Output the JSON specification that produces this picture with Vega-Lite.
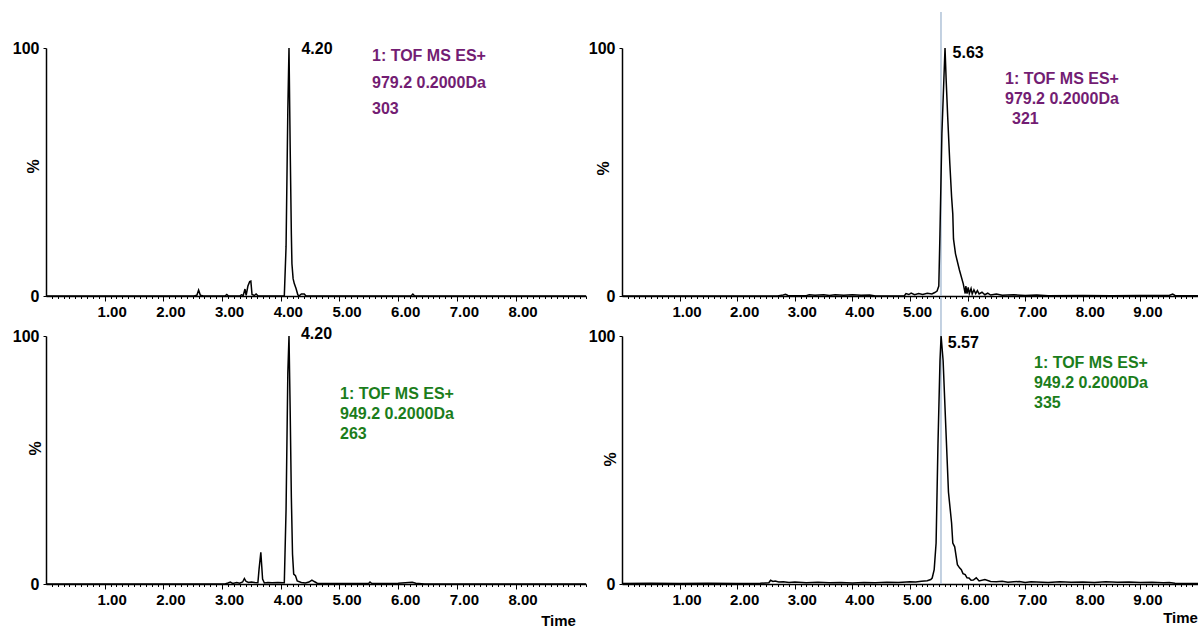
{
  "$schema": "https://vega.github.io/schema/vega-lite/v6.json",
  "background": "white",
  "padding": {"left": 12, "top": 11, "right": 0, "bottom": 0},
  "autosize": {"type": "pad"},
  "datasets": {
    "tl": [{"t":0,"pct":0},{"t":2.52,"pct":0},{"t":2.57,"pct":0.3},{"t":2.6,"pct":2.4},{"t":2.63,"pct":0.3},{"t":2.68,"pct":0},{"t":3.05,"pct":0},{"t":3.08,"pct":0.6},{"t":3.11,"pct":0},{"t":3.3,"pct":0},{"t":3.33,"pct":0.5},{"t":3.36,"pct":0.2},{"t":3.39,"pct":2.8},{"t":3.41,"pct":0.3},{"t":3.44,"pct":4},{"t":3.47,"pct":5.8},{"t":3.49,"pct":6},{"t":3.51,"pct":0.6},{"t":3.55,"pct":0.2},{"t":3.58,"pct":0.8},{"t":3.61,"pct":0.1},{"t":3.7,"pct":0},{"t":4.06,"pct":0},{"t":4.09,"pct":20},{"t":4.12,"pct":75},{"t":4.14,"pct":100},{"t":4.16,"pct":60},{"t":4.18,"pct":25},{"t":4.19,"pct":13},{"t":4.21,"pct":7},{"t":4.23,"pct":5},{"t":4.26,"pct":3},{"t":4.29,"pct":0.5},{"t":4.31,"pct":0},{"t":4.35,"pct":0.8},{"t":4.4,"pct":0.8},{"t":4.43,"pct":0},{"t":6.22,"pct":0},{"t":6.25,"pct":0.8},{"t":6.28,"pct":0},{"t":9.2,"pct":0}],
    "bl": [{"t":0,"pct":0},{"t":3.05,"pct":0},{"t":3.1,"pct":0.4},{"t":3.14,"pct":0.8},{"t":3.18,"pct":0.2},{"t":3.25,"pct":0.6},{"t":3.3,"pct":0.3},{"t":3.35,"pct":0.8},{"t":3.38,"pct":2.2},{"t":3.41,"pct":1},{"t":3.45,"pct":0.6},{"t":3.5,"pct":0.8},{"t":3.55,"pct":0.6},{"t":3.61,"pct":0.5},{"t":3.63,"pct":6},{"t":3.66,"pct":12.8},{"t":3.69,"pct":2},{"t":3.72,"pct":0.4},{"t":3.78,"pct":0.6},{"t":3.85,"pct":0.5},{"t":3.95,"pct":0.6},{"t":4.04,"pct":0.5},{"t":4.06,"pct":0.5},{"t":4.09,"pct":30},{"t":4.12,"pct":85},{"t":4.14,"pct":100},{"t":4.16,"pct":70},{"t":4.18,"pct":35},{"t":4.2,"pct":12},{"t":4.22,"pct":4},{"t":4.25,"pct":3.4},{"t":4.28,"pct":1.2},{"t":4.35,"pct":0.6},{"t":4.42,"pct":0.4},{"t":4.48,"pct":0.8},{"t":4.53,"pct":1.6},{"t":4.57,"pct":1},{"t":4.62,"pct":0.3},{"t":4.8,"pct":0.2},{"t":5.0,"pct":0.2},{"t":5.5,"pct":0.3},{"t":5.52,"pct":0.8},{"t":5.55,"pct":0.2},{"t":6.0,"pct":0.3},{"t":6.24,"pct":0.7},{"t":6.3,"pct":0.3},{"t":6.45,"pct":0},{"t":9.2,"pct":0}],
    "tr": [{"t":0,"pct":0},{"t":1.0,"pct":0},{"t":2.7,"pct":0},{"t":2.8,"pct":0.4},{"t":2.84,"pct":0.7},{"t":2.88,"pct":0.2},{"t":3.2,"pct":0.1},{"t":3.25,"pct":0.5},{"t":3.35,"pct":0.3},{"t":3.5,"pct":0.5},{"t":3.6,"pct":0.2},{"t":3.7,"pct":0.5},{"t":3.85,"pct":0.3},{"t":4.0,"pct":0.5},{"t":4.15,"pct":0.3},{"t":4.3,"pct":0.4},{"t":4.4,"pct":0},{"t":4.9,"pct":0},{"t":4.93,"pct":1},{"t":4.98,"pct":0.6},{"t":5.02,"pct":1.2},{"t":5.08,"pct":0.5},{"t":5.15,"pct":1},{"t":5.22,"pct":0.6},{"t":5.3,"pct":1.1},{"t":5.38,"pct":0.8},{"t":5.43,"pct":1.4},{"t":5.47,"pct":2},{"t":5.5,"pct":4},{"t":5.52,"pct":25},{"t":5.554,"pct":65.6},{"t":5.589,"pct":88},{"t":5.608,"pct":100},{"t":5.628,"pct":87},{"t":5.655,"pct":72},{"t":5.69,"pct":54},{"t":5.722,"pct":40},{"t":5.743,"pct":33},{"t":5.755,"pct":23},{"t":5.79,"pct":17},{"t":5.858,"pct":10.5},{"t":5.924,"pct":5},{"t":5.958,"pct":1},{"t":5.97,"pct":4},{"t":5.99,"pct":1},{"t":6.01,"pct":3.5},{"t":6.03,"pct":1},{"t":6.06,"pct":3},{"t":6.08,"pct":0.8},{"t":6.11,"pct":2.5},{"t":6.14,"pct":1},{"t":6.17,"pct":2.2},{"t":6.2,"pct":0.8},{"t":6.25,"pct":1.5},{"t":6.3,"pct":0.5},{"t":6.35,"pct":1.2},{"t":6.4,"pct":0.4},{"t":6.5,"pct":0.8},{"t":6.6,"pct":0.3},{"t":6.8,"pct":0.5},{"t":7.0,"pct":0.2},{"t":7.2,"pct":0.4},{"t":7.4,"pct":0.1},{"t":8.0,"pct":0.2},{"t":8.5,"pct":0.1},{"t":9.0,"pct":0.2},{"t":9.5,"pct":0.2},{"t":9.56,"pct":0.8},{"t":9.6,"pct":0.2},{"t":10,"pct":0.1}],
    "br": [{"t":0,"pct":0.2},{"t":0.5,"pct":0.3},{"t":1.0,"pct":0.2},{"t":1.5,"pct":0.3},{"t":2.0,"pct":0.2},{"t":2.4,"pct":0.3},{"t":2.55,"pct":0.5},{"t":2.58,"pct":1.5},{"t":2.62,"pct":1},{"t":2.66,"pct":1.2},{"t":2.72,"pct":0.8},{"t":2.8,"pct":0.9},{"t":2.9,"pct":0.6},{"t":3.0,"pct":0.8},{"t":3.2,"pct":0.5},{"t":3.4,"pct":0.7},{"t":3.6,"pct":0.5},{"t":3.8,"pct":0.6},{"t":4.0,"pct":0.4},{"t":4.2,"pct":0.6},{"t":4.4,"pct":0.5},{"t":4.6,"pct":0.7},{"t":4.8,"pct":0.6},{"t":5.0,"pct":0.9},{"t":5.1,"pct":0.8},{"t":5.2,"pct":1.1},{"t":5.3,"pct":1.3},{"t":5.36,"pct":1.8},{"t":5.385,"pct":2.4},{"t":5.42,"pct":5.8},{"t":5.453,"pct":16.5},{"t":5.486,"pct":56.8},{"t":5.521,"pct":90.3},{"t":5.54,"pct":100},{"t":5.575,"pct":90},{"t":5.622,"pct":63},{"t":5.668,"pct":37},{"t":5.722,"pct":24.6},{"t":5.743,"pct":16.5},{"t":5.776,"pct":15},{"t":5.823,"pct":7.8},{"t":5.86,"pct":6.5},{"t":5.891,"pct":5.8},{"t":5.92,"pct":4.2},{"t":5.958,"pct":3.8},{"t":5.99,"pct":2.5},{"t":6.024,"pct":2.4},{"t":6.06,"pct":1.5},{"t":6.1,"pct":1.6},{"t":6.15,"pct":2.5},{"t":6.2,"pct":1.2},{"t":6.3,"pct":1.8},{"t":6.4,"pct":1},{"t":6.5,"pct":0.9},{"t":6.6,"pct":1.1},{"t":6.7,"pct":0.7},{"t":6.8,"pct":0.9},{"t":6.9,"pct":1},{"t":7.0,"pct":0.6},{"t":7.1,"pct":0.9},{"t":7.2,"pct":0.8},{"t":7.4,"pct":0.6},{"t":7.6,"pct":0.9},{"t":7.8,"pct":0.7},{"t":8.0,"pct":0.8},{"t":8.2,"pct":0.6},{"t":8.4,"pct":0.9},{"t":8.6,"pct":0.7},{"t":8.8,"pct":0.8},{"t":9.0,"pct":0.6},{"t":9.2,"pct":0.7},{"t":9.4,"pct":0.5},{"t":9.5,"pct":0.6},{"t":9.6,"pct":0.3},{"t":10,"pct":0.2}]
  },
  "columns": 2,
  "spacing": {"row": 40, "column": 36},
  "bounds": "flush",
  "align": "each",
  "resolve": {"scale": {"x": "independent", "y": "independent"}, "axis": {"x": "independent", "y": "independent"}},
  "concat": [
    {
      "width": 540, "height": 248,
      "resolve": {"axis": {"x": "independent"}},
      "layer": [
        {"data": {"name": "tl"}, "mark": {"type": "line", "color": "black", "strokeWidth": 1.5},
         "encoding": {
           "x": {"field": "t", "type": "quantitative", "scale": {"domain": [0, 9.2], "nice": false, "zero": false},
                 "axis": {"title": null, "orient": "bottom", "offset": 0, "values": [1,2,3,4,5,6,7,8], "format": ".2f", "labelOffset": 7, "tickSize": 5, "labelPadding": 3}},
           "y": {"field": "pct", "type": "quantitative", "scale": {"domain": [0, 100], "nice": false},
                 "axis": {"values": [0, 100], "title": "%", "titleX": -13, "titleY": 118}}
         }},
        {"data": {"name": "tl"}, "mark": {"type": "point", "opacity": 0},
         "encoding": {
           "x": {"field": "t", "type": "quantitative", "scale": {"domain": [0, 9.2], "nice": false, "zero": false},
                 "axis": {"title": null, "orient": "bottom", "offset": 0, "labels": false, "domain": false, "tickSize": 2.5,
                          "values": [0.1,0.2,0.3,0.4,0.5,0.6,0.7,0.8,0.9,1.1,1.2,1.3,1.4,1.5,1.6,1.7,1.8,1.9,2.1,2.2,2.3,2.4,2.5,2.6,2.7,2.8,2.9,3.1,3.2,3.3,3.4,3.5,3.6,3.7,3.8,3.9,4.1,4.2,4.3,4.4,4.5,4.6,4.7,4.8,4.9,5.1,5.2,5.3,5.4,5.5,5.6,5.7,5.8,5.9,6.1,6.2,6.3,6.4,6.5,6.6,6.7,6.8,6.9,7.1,7.2,7.3,7.4,7.5,7.6,7.7,7.8,7.9,8.1,8.2,8.3,8.4,8.5,8.6,8.7,8.8,8.9,9,9.1,9.2]}}
         }},
        {"data": {"values": [{}]}, "mark": {"type": "text", "align": "left", "baseline": "top", "fontSize": 16, "fontWeight": "bold", "font": "Liberation Sans", "color": "#731d73", "lineHeight": 26.5, "text": ["1: TOF MS ES+", "979.2 0.2000Da", "303"]},
         "encoding": {"x": {"datum": 5.554, "axis": null}, "y": {"datum": 99.9}}},
        {"data": {"values": [{}]}, "mark": {"type": "text", "align": "left", "baseline": "middle", "fontSize": 16, "fontWeight": "bold", "font": "Liberation Sans", "color": "black", "text": "4.20"},
         "encoding": {"x": {"datum": 4.351, "axis": null}, "y": {"datum": 99.4}}}
      ]
    },
    {
      "width": 576, "height": 248,
      "resolve": {"axis": {"x": "independent"}},
      "layer": [
        {"data": {"values": [{}]}, "mark": {"type": "rule", "color": "#a3b8d1", "strokeWidth": 1.3},
         "encoding": {"x": {"datum": 5.538, "axis": null}, "y": {"datum": 0}, "y2": {"datum": 114.5}}},
        {"data": {"name": "tr"}, "mark": {"type": "line", "color": "black", "strokeWidth": 1.5},
         "encoding": {
           "x": {"field": "t", "type": "quantitative", "scale": {"domain": [0, 10], "nice": false, "zero": false},
                 "axis": {"title": null, "orient": "bottom", "offset": 0, "values": [1,2,3,4,5,6,7,8,9], "format": ".2f", "labelOffset": 7, "tickSize": 5, "labelPadding": 3}},
           "y": {"field": "pct", "type": "quantitative", "scale": {"domain": [0, 100], "nice": false},
                 "axis": {"values": [0, 100], "title": "%", "titleX": -19, "titleY": 120}}
         }},
        {"data": {"name": "tr"}, "mark": {"type": "point", "opacity": 0},
         "encoding": {
           "x": {"field": "t", "type": "quantitative", "scale": {"domain": [0, 10], "nice": false, "zero": false},
                 "axis": {"title": null, "orient": "bottom", "offset": 0, "labels": false, "domain": false, "tickSize": 2.5,
                          "values": [0.1,0.2,0.3,0.4,0.5,0.6,0.7,0.8,0.9,1.1,1.2,1.3,1.4,1.5,1.6,1.7,1.8,1.9,2.1,2.2,2.3,2.4,2.5,2.6,2.7,2.8,2.9,3.1,3.2,3.3,3.4,3.5,3.6,3.7,3.8,3.9,4.1,4.2,4.3,4.4,4.5,4.6,4.7,4.8,4.9,5.1,5.2,5.3,5.4,5.5,5.6,5.7,5.8,5.9,6.1,6.2,6.3,6.4,6.5,6.6,6.7,6.8,6.9,7.1,7.2,7.3,7.4,7.5,7.6,7.7,7.8,7.9,8.1,8.2,8.3,8.4,8.5,8.6,8.7,8.8,8.9,9.1,9.2,9.3,9.4,9.5,9.6,9.7,9.8,9.9,10]}}
         }},
        {"data": {"values": [{}]}, "mark": {"type": "text", "align": "left", "baseline": "top", "fontSize": 16, "fontWeight": "bold", "font": "Liberation Sans", "color": "#731d73", "lineHeight": 20, "text": ["1: TOF MS ES+", "979.2 0.2000Da"]},
         "encoding": {"x": {"datum": 6.649, "axis": null}, "y": {"datum": 90.7}}},
        {"data": {"values": [{}]}, "mark": {"type": "text", "align": "left", "baseline": "top", "fontSize": 16, "fontWeight": "bold", "font": "Liberation Sans", "color": "#731d73", "text": "321"},
         "encoding": {"x": {"datum": 6.771, "axis": null}, "y": {"datum": 74.6}}},
        {"data": {"values": [{}]}, "mark": {"type": "text", "align": "left", "baseline": "middle", "fontSize": 16, "fontWeight": "bold", "font": "Liberation Sans", "color": "black", "text": "5.63"},
         "encoding": {"x": {"datum": 5.74, "axis": null}, "y": {"datum": 98.1}}}
      ]
    },
    {
      "width": 540, "height": 248,
      "resolve": {"axis": {"x": "independent"}},
      "layer": [
        {"data": {"name": "bl"}, "mark": {"type": "line", "color": "black", "strokeWidth": 1.5},
         "encoding": {
           "x": {"field": "t", "type": "quantitative", "scale": {"domain": [0, 9.2], "nice": false, "zero": false},
                 "axis": {"title": "Time", "titleX": 512, "titleY": 36, "orient": "bottom", "offset": 0, "values": [1,2,3,4,5,6,7,8], "format": ".2f", "labelOffset": 7, "tickSize": 5, "labelPadding": 3}},
           "y": {"field": "pct", "type": "quantitative", "scale": {"domain": [0, 100], "nice": false},
                 "axis": {"values": [0, 100], "title": "%", "titleX": -11, "titleY": 112}}
         }},
        {"data": {"name": "bl"}, "mark": {"type": "point", "opacity": 0},
         "encoding": {
           "x": {"field": "t", "type": "quantitative", "scale": {"domain": [0, 9.2], "nice": false, "zero": false},
                 "axis": {"title": null, "orient": "bottom", "offset": 0, "labels": false, "domain": false, "tickSize": 2.5,
                          "values": [0.1,0.2,0.3,0.4,0.5,0.6,0.7,0.8,0.9,1.1,1.2,1.3,1.4,1.5,1.6,1.7,1.8,1.9,2.1,2.2,2.3,2.4,2.5,2.6,2.7,2.8,2.9,3.1,3.2,3.3,3.4,3.5,3.6,3.7,3.8,3.9,4.1,4.2,4.3,4.4,4.5,4.6,4.7,4.8,4.9,5.1,5.2,5.3,5.4,5.5,5.6,5.7,5.8,5.9,6.1,6.2,6.3,6.4,6.5,6.6,6.7,6.8,6.9,7.1,7.2,7.3,7.4,7.5,7.6,7.7,7.8,7.9,8.1,8.2,8.3,8.4,8.5,8.6,8.7,8.8,8.9,9,9.1,9.2]}}
         }},
        {"data": {"values": [{}]}, "mark": {"type": "text", "align": "left", "baseline": "top", "fontSize": 16, "fontWeight": "bold", "font": "Liberation Sans", "color": "#1b7d1b", "lineHeight": 20, "text": ["1: TOF MS ES+", "949.2 0.2000Da", "263"]},
         "encoding": {"x": {"datum": 5.009, "axis": null}, "y": {"datum": 79.9}}},
        {"data": {"values": [{}]}, "mark": {"type": "text", "align": "left", "baseline": "middle", "fontSize": 16, "fontWeight": "bold", "font": "Liberation Sans", "color": "black", "text": "4.20"},
         "encoding": {"x": {"datum": 4.344, "axis": null}, "y": {"datum": 101.0}}}
      ]
    },
    {
      "width": 576, "height": 248,
      "resolve": {"axis": {"x": "independent"}},
      "layer": [
        {"data": {"values": [{}]}, "mark": {"type": "rule", "color": "#a3b8d1", "strokeWidth": 1.3},
         "encoding": {"x": {"datum": 5.538, "axis": null}, "y": {"datum": 0}, "y2": {"datum": 115.7}}},
        {"data": {"name": "br"}, "mark": {"type": "line", "color": "black", "strokeWidth": 1.5},
         "encoding": {
           "x": {"field": "t", "type": "quantitative", "scale": {"domain": [0, 10], "nice": false, "zero": false},
                 "axis": {"title": "Time", "titleX": 558, "titleY": 33, "orient": "bottom", "offset": 0, "values": [1,2,3,4,5,6,7,8,9], "format": ".2f", "labelOffset": 7, "tickSize": 5, "labelPadding": 3}},
           "y": {"field": "pct", "type": "quantitative", "scale": {"domain": [0, 100], "nice": false},
                 "axis": {"values": [0, 100], "title": "%", "titleX": -12, "titleY": 123}}
         }},
        {"data": {"name": "br"}, "mark": {"type": "point", "opacity": 0},
         "encoding": {
           "x": {"field": "t", "type": "quantitative", "scale": {"domain": [0, 10], "nice": false, "zero": false},
                 "axis": {"title": null, "orient": "bottom", "offset": 0, "labels": false, "domain": false, "tickSize": 2.5,
                          "values": [0.1,0.2,0.3,0.4,0.5,0.6,0.7,0.8,0.9,1.1,1.2,1.3,1.4,1.5,1.6,1.7,1.8,1.9,2.1,2.2,2.3,2.4,2.5,2.6,2.7,2.8,2.9,3.1,3.2,3.3,3.4,3.5,3.6,3.7,3.8,3.9,4.1,4.2,4.3,4.4,4.5,4.6,4.7,4.8,4.9,5.1,5.2,5.3,5.4,5.5,5.6,5.7,5.8,5.9,6.1,6.2,6.3,6.4,6.5,6.6,6.7,6.8,6.9,7.1,7.2,7.3,7.4,7.5,7.6,7.7,7.8,7.9,8.1,8.2,8.3,8.4,8.5,8.6,8.7,8.8,8.9,9.1,9.2,9.3,9.4,9.5,9.6,9.7,9.8,9.9,10]}}
         }},
        {"data": {"values": [{}]}, "mark": {"type": "text", "align": "left", "baseline": "top", "fontSize": 16, "fontWeight": "bold", "font": "Liberation Sans", "color": "#1b7d1b", "lineHeight": 20, "text": ["1: TOF MS ES+", "949.2 0.2000Da", "335"]},
         "encoding": {"x": {"datum": 7.153, "axis": null}, "y": {"datum": 92.4}}},
        {"data": {"values": [{}]}, "mark": {"type": "text", "align": "left", "baseline": "middle", "fontSize": 16, "fontWeight": "bold", "font": "Liberation Sans", "color": "black", "text": "5.57"},
         "encoding": {"x": {"datum": 5.655, "axis": null}, "y": {"datum": 97.3}}}
      ]
    }
  ],
  "config": {
    "view": {"stroke": null},
    "axis": {
      "grid": false,
      "labelFont": "Liberation Sans", "labelFontWeight": "bold", "labelColor": "black",
      "titleFont": "Liberation Sans", "titleFontWeight": "bold", "titleColor": "black",
      "domainColor": "black", "domainWidth": 1.5, "tickColor": "black", "tickWidth": 1
    },
    "axisX": {"labelFontSize": 15, "labelBound": false, "labelFlush": false, "labelOverlap": false,
              "titleFontSize": 15, "titleAlign": "center", "titleBaseline": "middle"},
    "axisY": {"labelFontSize": 16, "tickSize": 3, "labelPadding": 4, "labelBound": false, "labelFlush": false,
              "titleFontSize": 16, "titleAngle": 270, "titleAlign": "center", "titleBaseline": "middle"}
  }
}
